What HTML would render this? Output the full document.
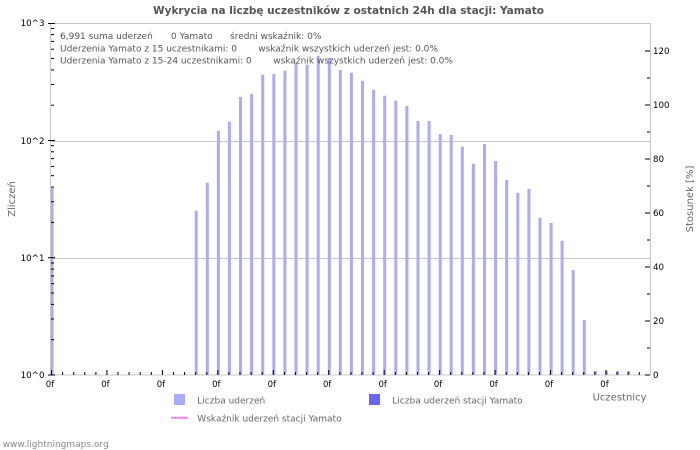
<!DOCTYPE html>
<html>
<head>
<meta charset="utf-8">
<style>
html,body{margin:0;padding:0;background:#fff;}
svg{display:block;}
text{font-family:"DejaVu Sans","Liberation Sans",sans-serif;}
</style>
</head>
<body>
<svg width="700" height="450" viewBox="0 0 700 450" xmlns="http://www.w3.org/2000/svg">
<rect x="0" y="0" width="700" height="450" fill="#fff"/>
<!-- title -->
<text x="348.5" y="14" text-anchor="middle" font-size="10.5" font-weight="bold" fill="#555" textLength="391" lengthAdjust="spacingAndGlyphs">Wykrycia na liczbę uczestników z ostatnich 24h dla stacji: Yamato</text>

<!-- gridlines -->
<line x1="51" y1="141.5" x2="650" y2="141.5" stroke="#c8c8c8" stroke-width="1"/>
<line x1="51" y1="258.5" x2="650" y2="258.5" stroke="#c8c8c8" stroke-width="1"/>

<!-- bars -->
<g fill="#aaaaff">
<rect x="50.5" y="188" width="3" height="187"/>
<rect x="194.7" y="210.7" width="3" height="164.3"/>
<rect x="205.8" y="182.7" width="3" height="192.3"/>
<rect x="216.9" y="130.7" width="3" height="244.3"/>
<rect x="227.9" y="121.7" width="3" height="253.3"/>
<rect x="239.0" y="97" width="3" height="278"/>
<rect x="250.1" y="93.7" width="3" height="281.3"/>
<rect x="261.2" y="74.7" width="3" height="300.3"/>
<rect x="272.3" y="74" width="3" height="301"/>
<rect x="283.4" y="70.7" width="3" height="304.3"/>
<rect x="294.5" y="62.7" width="3" height="312.3"/>
<rect x="305.6" y="64.7" width="3" height="310.3"/>
<rect x="316.7" y="55.7" width="3" height="319.3"/>
<rect x="327.8" y="58" width="3" height="317"/>
<rect x="338.8" y="70" width="3" height="305"/>
<rect x="349.9" y="72.7" width="3" height="302.3"/>
<rect x="361.0" y="80.7" width="3" height="294.3"/>
<rect x="372.1" y="89.7" width="3" height="285.3"/>
<rect x="383.2" y="95.7" width="3" height="279.3"/>
<rect x="394.3" y="100.7" width="3" height="274.3"/>
<rect x="405.4" y="106" width="3" height="269"/>
<rect x="416.5" y="121" width="3" height="254"/>
<rect x="427.6" y="121" width="3" height="254"/>
<rect x="438.7" y="134" width="3" height="241"/>
<rect x="449.7" y="135" width="3" height="240"/>
<rect x="460.8" y="146.7" width="3" height="228.3"/>
<rect x="471.9" y="163.7" width="3" height="211.3"/>
<rect x="483.0" y="144" width="3" height="231"/>
<rect x="494.1" y="161" width="3" height="214"/>
<rect x="505.2" y="180" width="3" height="195"/>
<rect x="516.3" y="192.7" width="3" height="182.3"/>
<rect x="527.4" y="189" width="3" height="186"/>
<rect x="538.5" y="217.7" width="3" height="157.3"/>
<rect x="549.6" y="223" width="3" height="152"/>
<rect x="560.6" y="240.7" width="3" height="134.3"/>
<rect x="571.7" y="270" width="3" height="105"/>
<rect x="582.8" y="320" width="3" height="55"/>
<rect x="593.9" y="371" width="3" height="4"/>
<rect x="605.0" y="371" width="3" height="4"/>
<rect x="616.1" y="371" width="3" height="4"/>
<rect x="627.2" y="371" width="3" height="4"/>
</g>

<!-- plot border -->
<rect x="50.5" y="23.5" width="600" height="351.5" fill="none" stroke="#c8c8c8" stroke-width="1"/>

<!-- left axis ticks -->
<g stroke="#000" stroke-width="1">
<line x1="48" y1="375" x2="55" y2="375"/>
<line x1="48" y1="257.7" x2="55" y2="257.7"/>
<line x1="48" y1="140.5" x2="55" y2="140.5"/>
<line x1="48" y1="23.5" x2="55" y2="23.5"/>
<!-- decade 0 -->
<line x1="51" y1="339.7" x2="54" y2="339.7"/>
<line x1="51" y1="319" x2="54" y2="319"/>
<line x1="51" y1="304.4" x2="54" y2="304.4"/>
<line x1="51" y1="293" x2="54" y2="293"/>
<line x1="51" y1="283.7" x2="54" y2="283.7"/>
<line x1="51" y1="275.9" x2="54" y2="275.9"/>
<line x1="51" y1="269.1" x2="54" y2="269.1"/>
<line x1="51" y1="263" x2="54" y2="263"/>
<!-- decade 1 -->
<line x1="51" y1="222.4" x2="54" y2="222.4"/>
<line x1="51" y1="201.7" x2="54" y2="201.7"/>
<line x1="51" y1="187.1" x2="54" y2="187.1"/>
<line x1="51" y1="175.7" x2="54" y2="175.7"/>
<line x1="51" y1="166.4" x2="54" y2="166.4"/>
<line x1="51" y1="158.6" x2="54" y2="158.6"/>
<line x1="51" y1="151.8" x2="54" y2="151.8"/>
<line x1="51" y1="145.7" x2="54" y2="145.7"/>
<!-- decade 2 -->
<line x1="51" y1="105.2" x2="54" y2="105.2"/>
<line x1="51" y1="84.5" x2="54" y2="84.5"/>
<line x1="51" y1="69.9" x2="54" y2="69.9"/>
<line x1="51" y1="58.5" x2="54" y2="58.5"/>
<line x1="51" y1="49.2" x2="54" y2="49.2"/>
<line x1="51" y1="41.4" x2="54" y2="41.4"/>
<line x1="51" y1="34.6" x2="54" y2="34.6"/>
<line x1="51" y1="28.5" x2="54" y2="28.5"/>
</g>

<!-- right axis ticks -->
<g stroke="#000" stroke-width="1">
<line x1="645" y1="375" x2="650" y2="375"/>
<line x1="647" y1="348" x2="650" y2="348"/>
<line x1="645" y1="321" x2="650" y2="321"/>
<line x1="647" y1="294" x2="650" y2="294"/>
<line x1="645" y1="267" x2="650" y2="267"/>
<line x1="647" y1="240" x2="650" y2="240"/>
<line x1="645" y1="213" x2="650" y2="213"/>
<line x1="647" y1="186" x2="650" y2="186"/>
<line x1="645" y1="159" x2="650" y2="159"/>
<line x1="647" y1="132" x2="650" y2="132"/>
<line x1="645" y1="105" x2="650" y2="105"/>
<line x1="647" y1="78" x2="650" y2="78"/>
<line x1="645" y1="51" x2="650" y2="51"/>
</g>

<!-- bottom ticks -->
<g stroke="#000" stroke-width="1">
<line x1="51.5" y1="370" x2="51.5" y2="375"/>
<line x1="62.6" y1="372" x2="62.6" y2="375"/>
<line x1="73.7" y1="372" x2="73.7" y2="375"/>
<line x1="84.8" y1="372" x2="84.8" y2="375"/>
<line x1="95.9" y1="372" x2="95.9" y2="375"/>
<line x1="106.9" y1="370" x2="106.9" y2="375"/>
<line x1="118.0" y1="372" x2="118.0" y2="375"/>
<line x1="129.1" y1="372" x2="129.1" y2="375"/>
<line x1="140.2" y1="372" x2="140.2" y2="375"/>
<line x1="151.3" y1="372" x2="151.3" y2="375"/>
<line x1="162.4" y1="370" x2="162.4" y2="375"/>
<line x1="173.5" y1="372" x2="173.5" y2="375"/>
<line x1="184.6" y1="372" x2="184.6" y2="375"/>
<line x1="195.7" y1="372" x2="195.7" y2="375"/>
<line x1="206.8" y1="372" x2="206.8" y2="375"/>
<line x1="217.8" y1="370" x2="217.8" y2="375"/>
<line x1="228.9" y1="372" x2="228.9" y2="375"/>
<line x1="240.0" y1="372" x2="240.0" y2="375"/>
<line x1="251.1" y1="372" x2="251.1" y2="375"/>
<line x1="262.2" y1="372" x2="262.2" y2="375"/>
<line x1="273.3" y1="370" x2="273.3" y2="375"/>
<line x1="284.4" y1="372" x2="284.4" y2="375"/>
<line x1="295.5" y1="372" x2="295.5" y2="375"/>
<line x1="306.6" y1="372" x2="306.6" y2="375"/>
<line x1="317.7" y1="372" x2="317.7" y2="375"/>
<line x1="328.7" y1="370" x2="328.7" y2="375"/>
<line x1="339.8" y1="372" x2="339.8" y2="375"/>
<line x1="350.9" y1="372" x2="350.9" y2="375"/>
<line x1="362.0" y1="372" x2="362.0" y2="375"/>
<line x1="373.1" y1="372" x2="373.1" y2="375"/>
<line x1="384.2" y1="370" x2="384.2" y2="375"/>
<line x1="395.3" y1="372" x2="395.3" y2="375"/>
<line x1="406.4" y1="372" x2="406.4" y2="375"/>
<line x1="417.5" y1="372" x2="417.5" y2="375"/>
<line x1="428.6" y1="372" x2="428.6" y2="375"/>
<line x1="439.6" y1="370" x2="439.6" y2="375"/>
<line x1="450.7" y1="372" x2="450.7" y2="375"/>
<line x1="461.8" y1="372" x2="461.8" y2="375"/>
<line x1="472.9" y1="372" x2="472.9" y2="375"/>
<line x1="484.0" y1="372" x2="484.0" y2="375"/>
<line x1="495.1" y1="370" x2="495.1" y2="375"/>
<line x1="506.2" y1="372" x2="506.2" y2="375"/>
<line x1="517.3" y1="372" x2="517.3" y2="375"/>
<line x1="528.4" y1="372" x2="528.4" y2="375"/>
<line x1="539.5" y1="372" x2="539.5" y2="375"/>
<line x1="550.5" y1="370" x2="550.5" y2="375"/>
<line x1="561.6" y1="372" x2="561.6" y2="375"/>
<line x1="572.7" y1="372" x2="572.7" y2="375"/>
<line x1="583.8" y1="372" x2="583.8" y2="375"/>
<line x1="594.9" y1="372" x2="594.9" y2="375"/>
<line x1="606.0" y1="370" x2="606.0" y2="375"/>
<line x1="617.1" y1="372" x2="617.1" y2="375"/>
<line x1="628.2" y1="372" x2="628.2" y2="375"/>
<line x1="639.3" y1="372" x2="639.3" y2="375"/>
</g>

<!-- left tick labels -->
<g font-size="8.7" fill="#000" text-anchor="end">
<text x="44.5" y="26">10^3</text>
<text x="44.5" y="144">10^2</text>
<text x="44.5" y="261">10^1</text>
<text x="44.5" y="378">10^0</text>
</g>

<!-- right tick labels -->
<g font-size="8.7" fill="#000">
<text x="653" y="378">0</text>
<text x="653" y="324">20</text>
<text x="653" y="270">40</text>
<text x="653" y="216">60</text>
<text x="653" y="162">80</text>
<text x="653" y="108">100</text>
<text x="653" y="54">120</text>
</g>

<!-- bottom tick labels -->
<g font-size="8.5" fill="#000" text-anchor="middle">
<text x="50" y="387">0f</text>
<text x="105.4" y="387">0f</text>
<text x="160.9" y="387">0f</text>
<text x="216.3" y="387">0f</text>
<text x="271.8" y="387">0f</text>
<text x="327.2" y="387">0f</text>
<text x="382.7" y="387">0f</text>
<text x="438.1" y="387">0f</text>
<text x="493.6" y="387">0f</text>
<text x="549" y="387">0f</text>
<text x="604.5" y="387">0f</text>
</g>

<!-- stats text -->
<g font-size="9" fill="#555">
<text x="60" y="39">6,991 suma uderzeń</text>
<text x="171" y="39">0 Yamato</text>
<text x="230" y="39">średni wskaźnik: 0%</text>
<text x="60" y="51.3">Uderzenia Yamato z 15 uczestnikami: 0</text>
<text x="258.3" y="51.3">wskaźnik wszystkich uderzeń jest: 0.0%</text>
<text x="60" y="63.5">Uderzenia Yamato z 15-24 uczestnikami: 0</text>
<text x="273.3" y="63.5">wskaźnik wszystkich uderzeń jest: 0.0%</text>
</g>

<!-- axis titles -->
<text transform="translate(15,199) rotate(-90)" text-anchor="middle" font-size="10" fill="#666">Zliczeń</text>
<text transform="translate(693,199) rotate(-90)" text-anchor="middle" font-size="10" fill="#666">Stosunek [%]</text>
<text x="646.5" y="400.5" text-anchor="end" font-size="10" fill="#666">Uczestnicy</text>

<!-- legend -->
<rect x="174" y="394" width="11" height="11" fill="#aaaaff"/>
<text x="197.3" y="403.5" font-size="9" fill="#666">Liczba uderzeń</text>
<rect x="369" y="394" width="11" height="11" fill="#6666ff"/>
<text x="392.3" y="403.5" font-size="9" fill="#666">Liczba uderzeń stacji Yamato</text>
<line x1="171" y1="417.7" x2="188" y2="417.7" stroke="#ee88ee" stroke-width="2"/>
<text x="197.3" y="421.5" font-size="9" fill="#666">Wskaźnik uderzeń stacji Yamato</text>

<!-- footer -->
<text x="2.7" y="447" font-size="9" fill="#888">www.lightningmaps.org</text>
</svg>
</body>
</html>
